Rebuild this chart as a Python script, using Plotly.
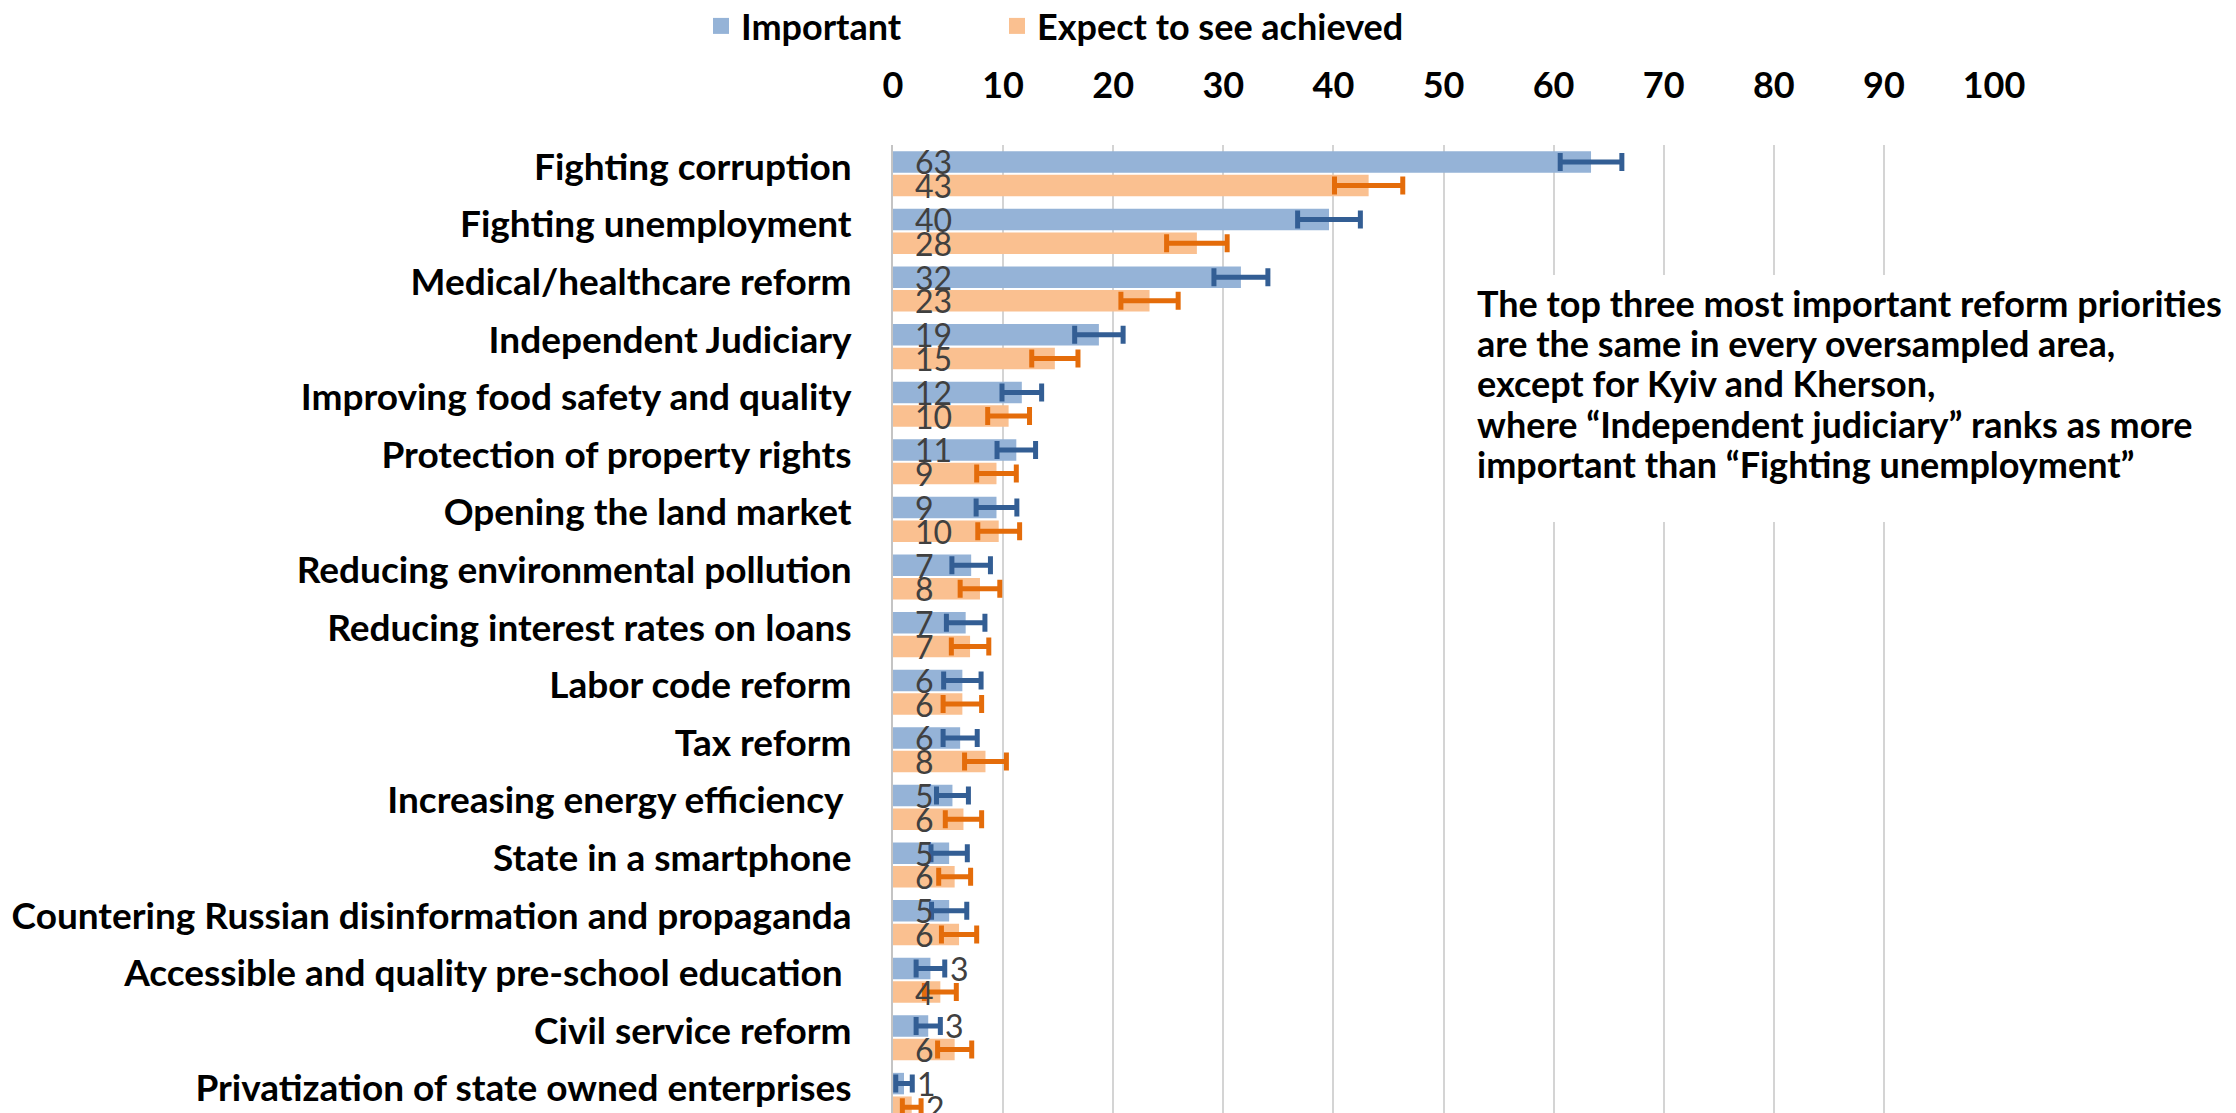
import plotly.graph_objects as go

categories = [
    "Fighting corruption",
    "Fighting unemployment",
    "Medical/healthcare reform",
    "Independent Judiciary",
    "Improving food safety and quality",
    "Protection of property rights",
    "Opening the land market",
    "Reducing environmental pollution",
    "Reducing interest rates on loans",
    "Labor code reform",
    "Tax reform",
    "Increasing energy efficiency\u00a0",
    "State in a smartphone",
    "Countering Russian disinformation and propaganda",
    "Accessible and quality pre-school education\u00a0",
    "Civil service reform",
    "Privatization of state owned enterprises",
]

important = [63.4, 39.6, 31.6, 18.7, 11.7, 11.2, 9.4, 7.1, 6.6, 6.3, 6.1, 5.4, 5.1, 5.1, 3.4, 3.2, 1.0]
important_err = [2.8, 2.85, 2.45, 2.2, 1.8, 1.75, 1.85, 1.75, 1.75, 1.7, 1.55, 1.45, 1.65, 1.6, 1.3, 1.1, 0.75]

expected = [43.2, 27.6, 23.3, 14.7, 10.5, 9.4, 9.6, 7.9, 7.0, 6.3, 8.4, 6.4, 5.6, 6.0, 4.3, 5.6, 1.7]
expected_err = [3.1, 2.75, 2.6, 2.1, 1.9, 1.8, 1.9, 1.8, 1.7, 1.75, 1.9, 1.65, 1.45, 1.6, 1.45, 1.55, 0.85]

x_ticks = [0, 10, 20, 30, 40, 50, 60, 70, 80, 90, 100]

note_lines = [
    "The top three most important reform priorities",
    "are the same in every oversampled area,",
    "except for Kyiv and Kherson,",
    "where \u201cIndependent judiciary\u201d ranks as more",
    "important than \u201cFighting unemployment\u201d",
]

FONT = "Lato"
IMP_COLOR = "#95b3d7"
EXP_COLOR = "#fac090"
IMP_ERR = "#335e94"
EXP_ERR = "#e46c0a"

W, H = 2236, 1113
TOP, BOTTOM = 137, 0
LEFT, RIGHT = 885, 250
PITCH = 57.6
plot_w = W - LEFT - RIGHT
plot_h = H - TOP - BOTTOM
y_span = plot_h / PITCH


def px_x(px):  # page pixel -> paper x
    return (px - LEFT) / plot_w


def px_y(py):  # page pixel (from top) -> paper y
    return (H - BOTTOM - py) / plot_h


fig = go.Figure()
fig.add_trace(go.Bar(
    name="Important", y=categories, x=important, orientation="h",
    marker=dict(color=IMP_COLOR, line=dict(width=0)),
    error_x=dict(type="data", array=important_err, color=IMP_ERR, thickness=5, width=9),
    showlegend=False, legendgroup="imp",
))
fig.add_trace(go.Bar(
    name="Expect to see achieved", y=categories, x=expected, orientation="h",
    marker=dict(color=EXP_COLOR, line=dict(width=0)),
    error_x=dict(type="data", array=expected_err, color=EXP_ERR, thickness=5, width=9),
    showlegend=False, legendgroup="exp",
))
# legend keys (larger square swatches)
fig.add_trace(go.Scatter(
    name="Important", x=[None], y=[None], mode="markers",
    marker=dict(symbol="square", size=20, color=IMP_COLOR),
    legend="legend", legendgroup="imp", showlegend=True, hoverinfo="skip",
))
fig.add_trace(go.Scatter(
    name="Expect to see achieved", x=[None], y=[None], mode="markers",
    marker=dict(symbol="square", size=20, color=EXP_COLOR),
    legend="legend2", legendgroup="exp", showlegend=True, hoverinfo="skip",
))

BARGAP = 0.18
half_slot = (1 - BARGAP) / 4.0  # centre offset of each bar within its category

annotations = []
for series, errs, sign in ((important, important_err, -1), (expected, expected_err, 1)):
    for i, (v, e) in enumerate(zip(series, errs)):
        if v < 4:
            xpos, xs = v + e, 3
        else:
            xpos, xs = 0, 20
        annotations.append(dict(
            x=xpos, y=i + sign * half_slot, xref="x", yref="y",
            text=f"{v:.0f}", showarrow=False, xanchor="left", yanchor="middle",
            xshift=xs, font=dict(family=FONT, size=32, color="#404040"),
        ))

note_font = dict(family=FONT, size=36, color="black", weight="bold")
for k, line in enumerate(note_lines):
    annotations.append(dict(
        x=px_x(1467), y=px_y(294.5 + 40.4 * k), xref="paper", yref="paper",
        xanchor="left", yanchor="middle", text=line, showarrow=False,
        align="left", font=note_font,
    ))

# white panel behind the note (hides the gridlines there)
shapes = [dict(
    type="rect", xref="paper", yref="paper",
    x0=px_x(1456), x1=px_x(2232), y0=px_y(514), y1=px_y(267),
    fillcolor="white", line=dict(width=0), layer="above",
)]

leg_font = dict(family=FONT, size=36, color="black", weight="bold")

fig.update_layout(
    width=W, height=H,
    margin=dict(l=LEFT, r=RIGHT, t=TOP, b=BOTTOM, pad=0),
    plot_bgcolor="white", paper_bgcolor="white",
    barmode="group", bargap=BARGAP, bargroupgap=0.09,
    xaxis=dict(
        range=[0, 100], side="top", tickmode="array", tickvals=x_ticks,
        ticktext=[str(t) for t in x_ticks],
        showgrid=True, gridcolor="#d4d4d4", gridwidth=1.5,
        zeroline=False, showline=False, ticks="",
        tickfont=dict(family=FONT, size=36, color="black", weight="bold"),
        ticklabelstandoff=39, fixedrange=True,
    ),
    yaxis=dict(
        type="category", categoryorder="array", categoryarray=categories,
        range=[y_span - 0.5, -0.5], showline=True, linecolor="#c4c4c4", linewidth=2,
        showgrid=False, zeroline=False, ticks="",
        tickfont=dict(family=FONT, size=37, color="black", weight="bold"),
        ticklabelstandoff=32, ticklabelshift=7, fixedrange=True,
    ),
    legend=dict(
        orientation="h", xref="container", yref="container",
        x=693 / W, y=1 - 18 / H, xanchor="left", yanchor="middle",
        font=leg_font, bgcolor="rgba(0,0,0,0)", itemsizing="trace",
    ),
    legend2=dict(
        orientation="h", xref="container", yref="container",
        x=989 / W, y=1 - 18 / H, xanchor="left", yanchor="middle",
        font=leg_font, bgcolor="rgba(0,0,0,0)", itemsizing="trace",
    ),
    annotations=annotations,
    shapes=shapes,
)

fig.write_html("out.html")
